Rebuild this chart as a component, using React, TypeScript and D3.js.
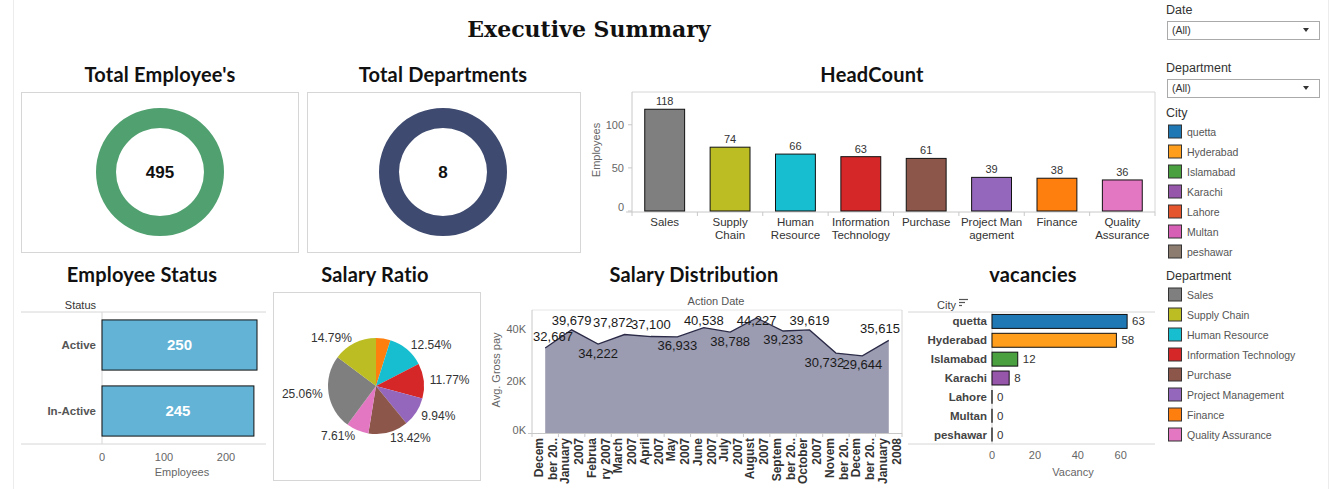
import React from "react";
import * as d3 from "d3";

// headcount by department
const departments = ["Sales", "Supply Chain", "Human Resource", "Information Technology", "Purchase", "Project Management", "Finance", "Quality Assurance"];
const deptAxisLines = [["Sales"], ["Supply", "Chain"], ["Human", "Resource"], ["Information", "Technology"], ["Purchase"], ["Project Man", "agement"], ["Finance"], ["Quality", "Assurance"]];
const headcount = [118, 74, 66, 63, 61, 39, 38, 36];
const deptColors = ["#7f7f7f", "#bcbd22", "#17becf", "#d62728", "#8c564b", "#9467bd", "#ff7f0e", "#e377c2"];

// employee status
const statuses = ["Active", "In-Active"];
const statusCounts = [250, 245];

// salary ratio (pie), alphabetical order as drawn
const ratioDepts = ["Finance", "Human Resource", "Information Technology", "Project Management", "Purchase", "Quality Assurance", "Sales", "Supply Chain"];
const ratioValues = [4.87, 12.54, 11.77, 9.94, 13.42, 7.61, 25.06, 14.79];

// salary distribution
const months = ["Dec 2006", "Jan 2007", "Feb 2007", "Mar 2007", "Apr 2007", "May 2007", "Jun 2007", "Jul 2007", "Aug 2007", "Sep 2007", "Oct 2007", "Nov 2007", "Dec 2007", "Jan 2008"];
const monthAxisLines = [["Decem", "ber 20.."], ["January", "2007"], ["Februa", "ry 2007"], ["March", "2007"], ["April", "2007"], ["May", "2007"], ["June", "2007"], ["July", "2007"], ["August", "2007"], ["Septem", "ber 20.."], ["October", "2007"], ["Novem", "ber 20.."], ["Decem", "ber 20.."], ["January", "2008"]];
const avgGrossPay = [32667, 39679, 34222, 37872, 37100, 36933, 40538, 38788, 44227, 39233, 39619, 30732, 29644, 35615];
const payLabelSide = ["above", "above", "below", "above", "above", "below", "above", "below", "above", "below", "above", "below", "below", "above"];

// vacancies by city
const cities = ["quetta", "Hyderabad", "Islamabad", "Karachi", "Lahore", "Multan", "peshawar"];
const vacancies = [63, 58, 12, 8, 0, 0, 0];
const cityColors = ["#1f77b4", "#ff9e1c", "#4aa03e", "#9656aa", "#e4552e", "#d65fb5", "#8c7c70"];

const SANS = "Liberation Sans, Arial, sans-serif";
const TITLE = "Lato, Open Sans, sans-serif";
const FRAME = "#d6d6d6";

function Donut({ cx, cy, value, color }: { cx: number; cy: number; value: number; color: string }) {
  const ring = d3.arc()({ innerRadius: 44, outerRadius: 64, startAngle: 0, endAngle: 2 * Math.PI } as any) as string;
  return (
    <g transform={`translate(${cx},${cy})`}>
      <path d={ring} fill={color} />
      <text textAnchor="middle" dy="0.35em" fontSize={17} fontWeight="bold" fill="#111" fontFamily={SANS}>{value}</text>
    </g>
  );
}

function HeadCount() {
  const x = d3.scaleBand().domain(departments).range([632, 1155]).paddingInner(0.39).paddingOuter(0.195);
  const y = d3.scaleLinear().domain([0, 138]).range([211, 92]);
  const step = x.step();
  return (
    <g fontFamily={SANS}>
      <line x1={632} x2={1155} y1={92} y2={92} stroke={FRAME} />
      <line x1={1155} x2={1155} y1={92} y2={212} stroke={FRAME} />
      <line x1={632} x2={632} y1={92} y2={212} stroke="#c8c8c8" />
      <line x1={626} x2={1155} y1={212} y2={212} stroke="#c8c8c8" />
      {departments.map((d, i) => (
        <line key={"t" + i} x1={632 + i * step} x2={632 + i * step} y1={212} y2={216} stroke="#c8c8c8" />
      ))}
      <line x1={1155} x2={1155} y1={212} y2={216} stroke="#c8c8c8" />
      {y.ticks(3).map((t) => (
        <g key={t}>
          <line x1={628} x2={632} y1={y(t)} y2={y(t)} stroke="#c8c8c8" />
          <text x={624} y={y(t) - (t === 0 ? 4 : 0)} dy="0.35em" textAnchor="end" fontSize={11} fill="#666">{t}</text>
        </g>
      ))}
      <text transform="translate(600,150) rotate(-90)" textAnchor="middle" fontSize={11} fill="#666">Employees</text>
      {departments.map((d, i) => (
        <g key={d}>
          <rect x={x(d)} y={y(headcount[i])} width={x.bandwidth()} height={y(0) - y(headcount[i])} fill={deptColors[i]} stroke="#111" strokeWidth={1} />
          <text x={x(d)! + x.bandwidth() / 2} y={y(headcount[i]) - 4} textAnchor="middle" fontSize={11} fill="#333">{headcount[i]}</text>
          {deptAxisLines[i].map((ln, j) => (
            <text key={j} x={x(d)! + x.bandwidth() / 2} y={226 + j * 13} textAnchor="middle" fontSize={11.5} fill="#333">{ln}</text>
          ))}
        </g>
      ))}
    </g>
  );
}

function EmployeeStatus() {
  const y = d3.scaleBand().domain(statuses).range([312, 444]).paddingInner(0.24).paddingOuter(0.12);
  const x = d3.scaleLinear().domain([0, 264.5]).range([102, 266]);
  return (
    <g fontFamily={SANS}>
      <text x={96} y={309} textAnchor="end" fontSize={11} fill="#333">Status</text>
      <line x1={21} x2={266} y1={312} y2={312} stroke={FRAME} />
      <line x1={21} x2={266} y1={444} y2={444} stroke={FRAME} />
      <line x1={102} x2={102} y1={312} y2={444} stroke={FRAME} />
      {statuses.map((s, i) => (
        <g key={s}>
          <rect x={x(0)} y={y(s)} width={x(statusCounts[i]) - x(0)} height={y.bandwidth()} fill="#62b3d6" stroke="#111" />
          <text x={(x(0) + x(statusCounts[i])) / 2} y={y(s)! + y.bandwidth() / 2} dy="0.35em" textAnchor="middle" fontSize={15} fontWeight="bold" fill="#fff">{statusCounts[i]}</text>
          <text x={96} y={y(s)! + y.bandwidth() / 2} dy="0.35em" textAnchor="end" fontSize={11.5} fontWeight="bold" fill="#555">{s}</text>
        </g>
      ))}
      {x.ticks(3).map((t) => (
        <text key={t} x={x(t)} y={461} textAnchor="middle" fontSize={11} fill="#666">{t}</text>
      ))}
      <text x={182} y={476} textAnchor="middle" fontSize={11} fill="#666">Employees</text>
    </g>
  );
}

function SalaryRatio() {
  const cx = 376, cy = 386, r = 48;
  const arcs = d3.pie<number>().sort(null).value((d) => d)(ratioValues);
  const arc = d3.arc<d3.PieArcDatum<number>>().innerRadius(0).outerRadius(r);
  return (
    <g fontFamily={SANS}>
      <rect x={273.5} y={292.5} width={207} height={188} fill="none" stroke={FRAME} />
      <g transform={`translate(${cx},${cy})`}>
        {arcs.map((a, i) => (
          <path key={ratioDepts[i]} d={arc(a)!} fill={deptColors[departments.indexOf(ratioDepts[i])]} />
        ))}
        {arcs.map((a, i) => {
          if (ratioValues[i] < 5) return null;
          const m = (a.startAngle + a.endAngle) / 2;
          const lx = Math.sin(m) * (r + 6);
          const ly = -Math.cos(m) * (r + 6);
          return (
            <text key={"l" + i} x={lx} y={ly} dy="0.35em" textAnchor={lx < 0 ? "end" : "start"} fontSize={12} fill="#333">
              {ratioValues[i].toFixed(2)}%
            </text>
          );
        })}
      </g>
    </g>
  );
}

function SalaryDistribution() {
  const x = d3.scaleBand().domain(months).range([532, 902]);
  const y = d3.scaleLinear().domain([0, 47300]).range([433, 310]);
  const px = (i: number) => x(months[i])! + x.bandwidth() / 2;
  const area = d3.area<number>().x((_, i) => px(i)).y0(y(0)).y1((d) => y(d));
  const line = d3.line<number>().x((_, i) => px(i)).y((d) => y(d));
  const fmt = d3.format(",");

  // place value labels, then push colliding neighbours apart (leftward)
  const labelW = 38;
  const labels = avgGrossPay.map((v, i) => ({
    x: Math.min(Math.max(px(i), 532 + labelW / 2 + 2), 902 - labelW / 2 - 3),
    y: payLabelSide[i] === "above" ? Math.max(y(v) - 7.5, 325) : y(v) + 13.5,
    text: fmt(v),
  }));
  for (let i = labels.length - 2; i >= 0; i--) {
    const a = labels[i], b = labels[i + 1];
    if (Math.abs(a.y - b.y) < 12 && b.x - a.x < labelW) a.x = b.x - labelW;
  }

  return (
    <g fontFamily={SANS}>
      <text x={716} y={305} textAnchor="middle" fontSize={11} fill="#555">Action Date</text>
      <line x1={532} x2={902} y1={310} y2={310} stroke="#e6e6e6" />
      <line x1={902} x2={902} y1={310} y2={433} stroke={FRAME} />
      <line x1={532} x2={532} y1={310} y2={433} stroke="#c8c8c8" />
      <line x1={528} x2={902} y1={433.5} y2={433.5} stroke="#c8c8c8" />
      {months.map((m, i) => (
        <line key={"tk" + i} x1={x(m)} x2={x(m)} y1={433} y2={437} stroke="#c8c8c8" />
      ))}
      <line x1={902} x2={902} y1={433} y2={437} stroke="#c8c8c8" />
      {[0, 20000, 40000].map((t) => (
        <text key={t} x={526} y={y(t) - (t === 0 ? 3 : 0)} dy="0.35em" textAnchor="end" fontSize={11} fill="#666">{t / 1000}K</text>
      ))}
      <text transform="translate(500,370) rotate(-90)" textAnchor="middle" fontSize={11} fill="#666">Avg. Gross pay</text>
      <path d={area(avgGrossPay)!} fill="#9b9bb1" />
      <path d={line(avgGrossPay)!} fill="none" stroke="#2b2b48" strokeWidth={1.3} />
      {labels.map((l, i) => (
        <text key={"v" + i} x={l.x} y={l.y} textAnchor="middle" fontSize={13} fill="#1a1a1a">{l.text}</text>
      ))}
      {months.map((m, i) =>
        monthAxisLines[i].map((ln, j) => (
          <text key={m + j} transform={`translate(${x(m)! + 11 + j * 14},438) rotate(-90)`} textAnchor="end" fontSize={12} fontWeight="bold" fill="#333">{ln}</text>
        ))
      )}
    </g>
  );
}

function Vacancies() {
  const y = d3.scaleBand().domain(cities).range([312, 444]).paddingInner(0.26).paddingOuter(0.13);
  const x = d3.scaleLinear().domain([0, 76]).range([992, 1155]);
  return (
    <g fontFamily={SANS}>
      <text x={956} y={309} textAnchor="end" fontSize={11} fill="#444">City</text>
      <g stroke="#555" strokeWidth={1.2}>
        <line x1={959} x2={968} y1={299.5} y2={299.5} />
        <line x1={959} x2={965} y1={302.5} y2={302.5} />
        <line x1={959} x2={962} y1={305.5} y2={305.5} />
      </g>
      <line x1={908} x2={1155} y1={312} y2={312} stroke={FRAME} />
      <line x1={908} x2={1155} y1={444} y2={444} stroke={FRAME} />
      <line x1={992} x2={992} y1={312} y2={444} stroke={FRAME} />
      {cities.map((c, i) => (
        <g key={c}>
          {vacancies[i] > 0 ? (
            <rect x={x(0)} y={y(c)} width={x(vacancies[i]) - x(0)} height={y.bandwidth()} fill={cityColors[i]} stroke="#111" />
          ) : (
            <line x1={x(0)} x2={x(0)} y1={y(c)} y2={y(c)! + y.bandwidth()} stroke="#111" strokeWidth={1.3} />
          )}
          <text x={x(vacancies[i]) + 5} y={y(c)! + y.bandwidth() / 2} dy="0.35em" fontSize={11.5} fill="#333">{vacancies[i]}</text>
          <text x={987} y={y(c)! + y.bandwidth() / 2} dy="0.35em" textAnchor="end" fontSize={11.5} fontWeight="bold" fill="#444">{c}</text>
        </g>
      ))}
      {x.ticks(4).filter((t) => t <= 60).map((t) => (
        <text key={t} x={x(t)} y={459} textAnchor="middle" fontSize={11} fill="#666">{t}</text>
      ))}
      <text x={1073} y={476} textAnchor="middle" fontSize={11} fill="#666">Vacancy</text>
    </g>
  );
}

function Legend() {
  const swatch = (label: string, color: string, yc: number) => (
    <g key={label}>
      <rect x={1168.5} y={yc - 7} width={13} height={13} fill={color} stroke="#333" />
      <text x={1187} y={yc} dy="0.35em" fontSize={10.5} fill="#555">{label}</text>
    </g>
  );
  const dropdown = (yt: number) => (
    <g>
      <rect x={1167.5} y={yt + 0.5} width={152} height={18} fill="#fff" stroke="#aaa" />
      <text x={1172} y={yt + 9} dy="0.35em" fontSize={10.5} fill="#333">(All)</text>
      <path d={`M${1303},${yt + 7} L${1309},${yt + 7} L${1306},${yt + 11} Z`} fill="#333" />
    </g>
  );
  return (
    <g fontFamily={SANS}>
      <text x={1166} y={10} dy="0.35em" fontSize={12.5} fill="#333">Date</text>
      {dropdown(21)}
      <text x={1166} y={68} dy="0.35em" fontSize={12.5} fill="#333">Department</text>
      {dropdown(79)}
      <text x={1166} y={113} dy="0.35em" fontSize={12.5} fill="#333">City</text>
      {cities.map((c, i) => swatch(c, cityColors[i], 132 + i * 20))}
      <text x={1166} y={276} dy="0.35em" fontSize={12.5} fill="#333">Department</text>
      {departments.map((d, i) => swatch(d, deptColors[i], 295 + i * 20))}
    </g>
  );
}

export default function App() {
  const totalEmployees = d3.sum(headcount);
  return (
    <svg width={1331} height={489} style={{ position: "absolute", left: 0, top: 0, background: "#fff" }}>
      <line x1={13.5} x2={13.5} y1={0} y2={489} stroke="#ececec" />
      <line x1={1328.5} x2={1328.5} y1={0} y2={489} stroke="#ececec" />
      <text x={589} y={37} textAnchor="middle" fontFamily="DejaVu Serif, serif" fontWeight="bold" fontSize={22} fill="#111">Executive Summary</text>

      <g fontFamily={TITLE} fontWeight="bold" fontSize={20} fill="#111" textAnchor="middle" letterSpacing={0.2}>
        <text x={160} y={82}>Total Employee's</text>
        <text x={443} y={82}>Total Departments</text>
        <text x={872} y={82}>HeadCount</text>
        <text x={142} y={282}>Employee Status</text>
        <text x={375} y={282}>Salary Ratio</text>
        <text x={694} y={282}>Salary Distribution</text>
        <text x={1033} y={282}>vacancies</text>
      </g>

      <rect x={21.5} y={92.5} width={277} height={160} fill="none" stroke={FRAME} />
      <rect x={307.5} y={92.5} width={273} height={160} fill="none" stroke={FRAME} />
      <Donut cx={160} cy={172} value={totalEmployees} color="#51a070" />
      <Donut cx={443} cy={172} value={departments.length} color="#3e4a6f" />

      <HeadCount />
      <EmployeeStatus />
      <SalaryRatio />
      <SalaryDistribution />
      <Vacancies />
      <Legend />
    </svg>
  );
}
